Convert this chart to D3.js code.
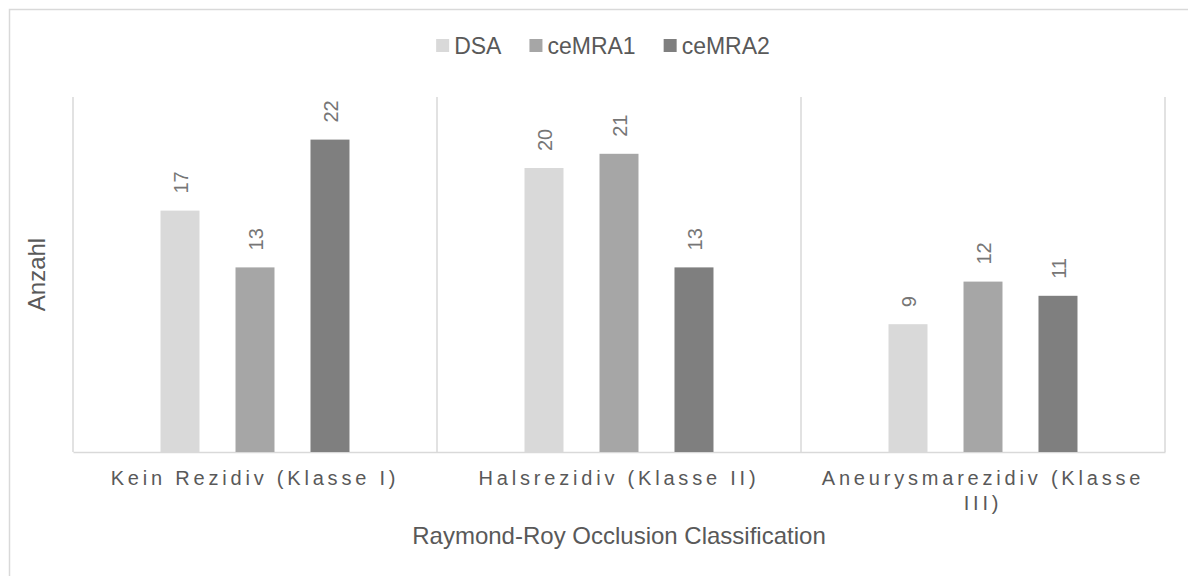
<!DOCTYPE html>
<html>
<head>
<meta charset="utf-8">
<script src="https://cdn.jsdelivr.net/npm/d3@7"></script>
<style>
  body { margin: 0; background: #fff; }
  text { font-family: "Liberation Sans", Arial, sans-serif; fill: #595959; }
</style>
</head>
<body>
<div id="chart"></div>
<script>
// data
const categories = ["Kein Rezidiv (Klasse I)", "Halsrezidiv (Klasse II)", "Aneurysmarezidiv (Klasse III)"];
const seriesNames = ["DSA", "ceMRA1", "ceMRA2"];
const dsa = [17, 20, 9];
const cemra1 = [13, 21, 12];
const cemra2 = [22, 13, 11];
const colors = ["#d9d9d9", "#a6a6a6", "#7f7f7f"];

const W = 1188, H = 576;
const margin = { top: 97, right: 23, bottom: 124, left: 73 },
  width = W - margin.left - margin.right,
  height = H - margin.top - margin.bottom;

const svg = d3.select("#chart").append("svg")
  .attr("width", W)
  .attr("height", H);

// outer chart border
svg.append("rect")
  .attr("x", 9.5).attr("y", 9.5)
  .attr("width", 1200).attr("height", 600)
  .attr("fill", "none")
  .attr("stroke", "#d9d9d9")
  .attr("stroke-width", 1.5);

const g = svg.append("g")
  .attr("transform", `translate(${margin.left},${margin.top})`);

const rows = categories.map((c, i) => ({
  cat: c,
  values: [dsa[i], cemra1[i], cemra2[i]]
}));

const x = d3.scaleBand()
  .domain(categories)
  .range([0, width])
  .padding(0);

const xs = d3.scaleBand()
  .domain(seriesNames)
  .range([0, x.bandwidth()])
  .paddingInner(0.48)
  .paddingOuter(1.167);

const y = d3.scaleLinear()
  .domain([0, 25])
  .range([height, 0]);

// vertical separators
const seps = categories.map(c => x(c)).concat([width]);
g.selectAll(".sep")
  .data(seps)
  .join("line")
  .attr("x1", d => d).attr("x2", d => d)
  .attr("y1", 0).attr("y2", height)
  .attr("stroke", "#d9d9d9")
  .attr("stroke-width", 1.5);

// x axis
const xAxis = g.append("g")
  .attr("transform", `translate(0,${height})`)
  .call(d3.axisBottom(x).tickSize(0).tickPadding(0));
xAxis.select(".domain").attr("stroke", "#d9d9d9").attr("stroke-width", 1.5);
xAxis.selectAll(".tick text")
  .attr("fill", "#595959")
  .style("font-size", "20px")
  .style("letter-spacing", "3.8px")
  .style("font-family", '"Liberation Sans", Arial, sans-serif')
  .attr("dy", null)
  .attr("y", 33)
  .each(function () { wrap(d3.select(this), x.bandwidth() - 20); });

function wrap(text, maxW) {
  const words = text.text().split(/\s+/);
  text.text(null);
  let line = [];
  let lineNo = 0;
  let tspan = text.append("tspan").attr("x", 0).attr("y", 33);
  words.forEach(w => {
    line.push(w);
    tspan.text(line.join(" "));
    if (tspan.node().getComputedTextLength() > maxW && line.length > 1) {
      line.pop();
      tspan.text(line.join(" "));
      line = [w];
      lineNo++;
      tspan = text.append("tspan").attr("x", 0).attr("y", 33 + lineNo * 25).text(w);
    }
  });
}

// bars
const groups = g.selectAll(".grp")
  .data(rows)
  .join("g")
  .attr("class", "grp")
  .attr("transform", d => `translate(${x(d.cat)},0)`);

groups.selectAll("rect")
  .data(d => d.values.map((v, i) => ({ s: seriesNames[i], v: v, i: i })))
  .join("rect")
  .attr("x", d => xs(d.s))
  .attr("y", d => y(d.v))
  .attr("width", xs.bandwidth())
  .attr("height", d => height - y(d.v))
  .attr("fill", d => colors[d.i]);

// value labels (rotated)
groups.selectAll(".lbl")
  .data(d => d.values.map((v, i) => ({ s: seriesNames[i], v: v })))
  .join("text")
  .attr("class", "lbl")
  .attr("transform", d => `translate(${xs(d.s) + xs.bandwidth() / 2 + 1},${y(d.v) - 17}) rotate(-90)`)
  .attr("dy", "0.35em")
  .style("font-size", "20px")
  .style("fill", "#767676")
  .text(d => d.v);

// axis titles
svg.append("text")
  .attr("x", margin.left + width / 2)
  .attr("y", 544)
  .attr("text-anchor", "middle")
  .style("font-size", "24px")
  .text("Raymond-Roy Occlusion Classification");

svg.append("text")
  .attr("transform", `translate(45,${margin.top + height / 2}) rotate(-90)`)
  .attr("text-anchor", "middle")
  .style("font-size", "24px")
  .text("Anzahl");

// legend
const legend = svg.append("g");
let lx = 0;
seriesNames.forEach((s, i) => {
  const it = legend.append("g").attr("transform", `translate(${lx},0)`);
  it.append("rect")
    .attr("x", 0).attr("y", -15)
    .attr("width", 13).attr("height", 13)
    .attr("fill", colors[i]);
  const t = it.append("text")
    .attr("x", 18).attr("y", 0)
    .style("font-size", "23px")
    .text(s);
  lx += 18 + t.node().getComputedTextLength() + 28;
});
const lw = lx - 28;
legend.attr("transform", `translate(${603 - lw / 2},54)`);
</script>
</body>
</html>
